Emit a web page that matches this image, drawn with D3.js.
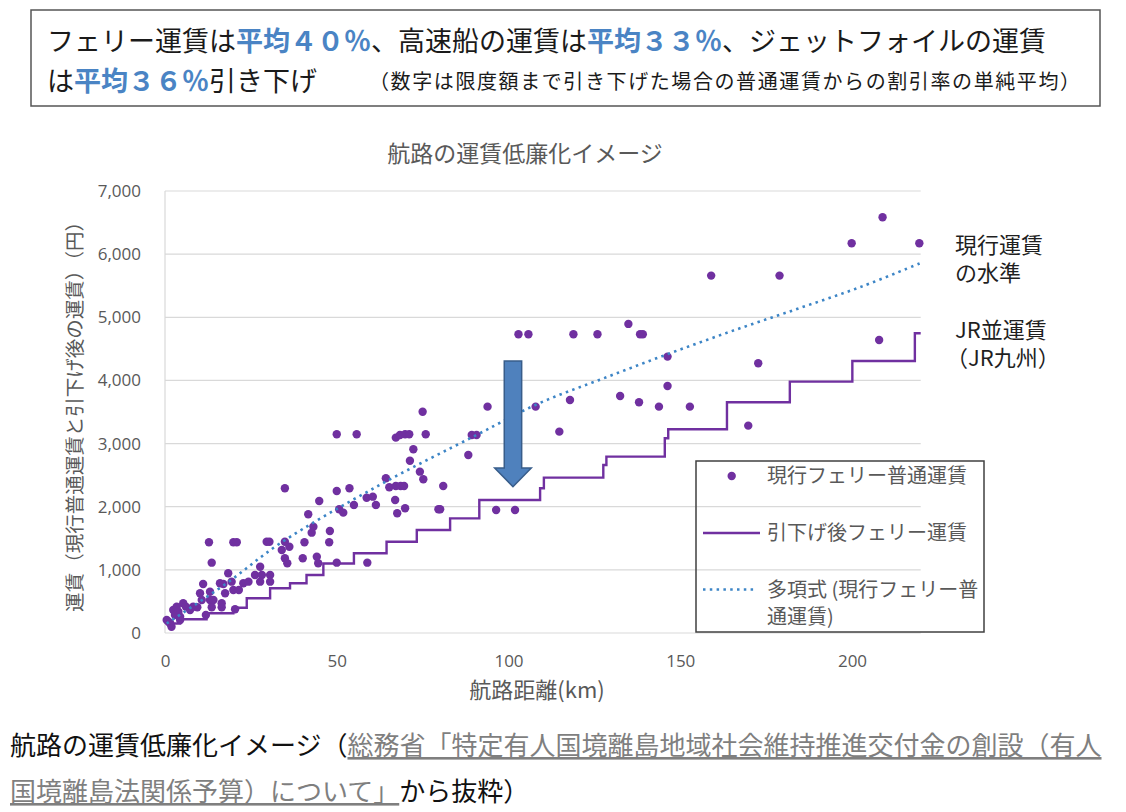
<!DOCTYPE html>
<html>
<head>
<meta charset="utf-8">
<script src="https://cdn.jsdelivr.net/npm/d3@7"></script>
<style>
  body { margin: 0; background: #fff; }
  text { font-family: "Noto Sans CJK JP", "Noto Sans", sans-serif; }
  .num { font-family: "Open Sans", "Liberation Sans", sans-serif; }
</style>
</head>
<body>
<script>
// current ferry fares (km, yen)
var ferryKm = [208.9,199.9,219.6,159.0,178.9,102.9,105.8,118.9,125.9,134.9,138.3,139.1,146.3,146.3,207.9,172.7,169.8,132.5,138.0,143.8,152.8,93.9,107.9,117.9,114.8,88.3,89.3,90.7,81.0,80.1,96.4,101.9,
  75.0,50.0,55.8,67.2,68.4,69.9,71.1,75.9,72.3,71.3,74.2,75.2,64.3,65.3,67.2,68.6,69.6,34.9,50.0,53.7,44.9,58.7,60.5,61.4,55.0,67.0,69.9,67.6,79.6,50.7,51.9,41.7,43.2,42.7,48.0,47.8,40.6,34.9,36.2,34.0,34.9,35.6,40.1,44.2,44.6,50.0,58.9,
  12.8,19.9,20.9,29.6,30.4,13.6,18.4,11.1,16.0,17.0,19.4,19.9,21.5,22.8,24.3,26.2,28.2,27.7,30.6,30.6,27.7,10.2,10.7,13.1,13.1,13.6,16.5,20.4,5.3,6.1,8.2,9.4,11.9,2.4,3.9,2.9,4.4,0.5,1.5,1.9,1.0,17.5,16.5,14.1,3.4,7.3,4.4];
var ferryFare = [6585,6173,6173,5660,5660,4731,4731,4731,4731,4895,4731,4731,4377,3912,4641,4272,3284,3754,3654,3585,3585,3585,3585,3691,3189,2820,3136,3136,2328,1959,1948,1948,
  3505,3147,3147,3094,3136,3147,3147,3147,2910,2729,2555,2435,2450,2308,2328,2328,2328,2292,2249,2292,2091,2143,2159,2028,2028,2107,1975,1896,1959,1959,1906,1880,1684,1589,1616,1437,1437,1446,1367,1315,1183,1104,1183,1209,1104,1114,1114,
  1437,1437,1437,1446,1446,1114,946,776,787,776,813,681,681,787,813,919,919,813,813,919,1050,629,523,654,523,407,407,375,470,417,417,407,285,364,337,285,258,206,154,100,179,629,470,523,417,364,206];

// reduced fare (JR level), step starts
var stepKm = [1,4.4,12.1,19.9,23.8,30.6,36.4,41.2,46.1,55.0,64.5,73.3,83.0,91.5,109.2,110.3,127.6,128.5,145.5,146.5,163.6,181.9,200.1,218.3,220];
var stepFare = [150,217,312,401,550,708,787,919,1100,1262,1446,1631,1815,2107,2292,2460,2661,2793,3084,3227,3654,3981,4308,4747,4747];

// polynomial trend line
var trendKm = [0.5,18,33.5,62,90.7,109,128,147,166,185,203,220];
var trendFare = [150,790,1420,2330,3136,3640,4040,4430,4800,5150,5490,5860];

var xTicks = [0, 50, 100, 150, 200];
var yTicks = [0, 1000, 2000, 3000, 4000, 5000, 6000, 7000];
var legendLabels = ["現行フェリー普通運賃", "引下げ後フェリー運賃", ["多項式 (現行フェリー普", "通運賃)"]];

// arrow: km, top fare, head start fare, tip fare
var arrowKm = 101.3, arrowTop = 4308, arrowHead = 2614, arrowTip = 2317;

var W = 1126, H = 812;
var purple = "#7030a0", dotBlue = "#3d85c6", gray = "#595959", blue = "#4a84c4";

var svg = d3.select("body").append("svg").attr("width", W).attr("height", H);

// header box
svg.append("rect").attr("x", 31).attr("y", 10).attr("width", 1069).attr("height", 96)
  .attr("fill", "none").attr("stroke", "#555").attr("stroke-width", 1.5);

var h1 = svg.append("text").attr("x", 47).attr("y", 51).attr("font-size", 27).attr("fill", "#1a1a1a");
h1.append("tspan").text("フェリー運賃は");
h1.append("tspan").text("平均４０％").attr("fill", blue).attr("font-weight", "bold");
h1.append("tspan").text("、高速船の運賃は");
h1.append("tspan").text("平均３３％").attr("fill", blue).attr("font-weight", "bold");
h1.append("tspan").text("、ジェットフォイルの運賃");

var h2 = svg.append("text").attr("x", 47).attr("y", 91).attr("font-size", 27).attr("fill", "#1a1a1a");
h2.append("tspan").text("は");
h2.append("tspan").text("平均３６％").attr("fill", blue).attr("font-weight", "bold");
h2.append("tspan").text("引き下げ");

svg.append("text").attr("x", 369).attr("y", 89).attr("font-size", 20).attr("fill", "#1a1a1a")
  .attr("textLength", 711).attr("lengthAdjust", "spacing")
  .text("（数字は限度額まで引き下げた場合の普通運賃からの割引率の単純平均）");

// chart
var x = d3.scaleLinear().domain([0, 220]).range([165, 920.7]);
var y = d3.scaleLinear().domain([0, 7000]).range([633, 191]);

svg.append("text").attr("x", 525).attr("y", 154).attr("dy", "0.36em")
  .attr("text-anchor", "middle").attr("font-size", 23).attr("fill", gray)
  .text("航路の運賃低廉化イメージ");

svg.append("g").selectAll("line")
  .data(yTicks)
  .enter()
  .append("line")
  .attr("x1", x(0)).attr("x2", x(220))
  .attr("y1", function(d) { return y(d); })
  .attr("y2", function(d) { return y(d); })
  .attr("stroke", "#d9d9d9").attr("stroke-width", 1.2);

svg.append("line").attr("x1", x(0)).attr("x2", x(0)).attr("y1", y(0)).attr("y2", y(7000))
  .attr("stroke", "#d9d9d9").attr("stroke-width", 1.2);

var yAxis = d3.axisLeft(y).tickValues(yTicks).tickSize(0).tickPadding(24).tickFormat(d3.format(","));
var gy = svg.append("g").attr("transform", "translate(" + x(0) + ",0)").call(yAxis);
gy.select(".domain").remove();
gy.selectAll("text").attr("class", "num").attr("font-size", 17).attr("fill", gray);

var xAxis = d3.axisBottom(x).tickValues(xTicks).tickSize(0).tickPadding(22);
var gx = svg.append("g").attr("transform", "translate(0," + y(0) + ")").call(xAxis);
gx.select(".domain").remove();
gx.selectAll("text").attr("class", "num").attr("font-size", 17).attr("fill", gray);

svg.append("text").attr("transform", "translate(75,412) rotate(-90)").attr("dy", "0.36em")
  .attr("text-anchor", "middle").attr("font-size", 19.5).attr("fill", gray)
  .text("運賃（現行普通運賃と引下げ後の運賃）（円）");

svg.append("text").attr("x", 537).attr("y", 690).attr("dy", "0.36em")
  .attr("text-anchor", "middle").attr("font-size", 22).attr("fill", gray)
  .text("航路距離(km)");

// points
var pts = ferryKm.map(function(k, i) { return [k, ferryFare[i]]; });
svg.append("g").selectAll("circle")
  .data(pts)
  .enter()
  .append("circle")
  .attr("cx", function(d) { return x(d[0]); })
  .attr("cy", function(d) { return y(d[1]); })
  .attr("r", 4.2)
  .attr("fill", purple);

// step line
var steps = stepKm.map(function(k, i) { return [k, stepFare[i]]; });
svg.append("path").datum(steps)
  .attr("d", d3.line().x(function(d) { return x(d[0]); }).y(function(d) { return y(d[1]); }).curve(d3.curveStepAfter))
  .attr("fill", "none").attr("stroke", purple).attr("stroke-width", 2.4);

// trend line, on top of the points
var trend = trendKm.map(function(k, i) { return [k, trendFare[i]]; });
svg.append("path").datum(trend)
  .attr("d", d3.line().x(function(d) { return x(d[0]); }).y(function(d) { return y(d[1]); }).curve(d3.curveCatmullRom))
  .attr("fill", "none").attr("stroke", dotBlue).attr("stroke-width", 2.6)
  .attr("stroke-dasharray", "2.5 4.3");

// arrow
var ax = x(arrowKm);
var arrowPts = [
  [ax - 8.7, y(arrowTop)], [ax + 8.7, y(arrowTop)], [ax + 8.7, y(arrowHead)], [ax + 18.3, y(arrowHead)],
  [ax, y(arrowTip)], [ax - 18.3, y(arrowHead)], [ax - 8.7, y(arrowHead)]
];
svg.append("polygon").attr("points", arrowPts.map(function(p) { return p.join(","); }).join(" "))
  .attr("fill", "#4f81bd").attr("stroke", "#385d8a").attr("stroke-width", 1.5);

// right labels
var rl = [["現行運賃", 245], ["の水準", 273], ["JR並運賃", 330], ["（JR九州）", 358]];
svg.append("g").selectAll("text")
  .data(rl)
  .enter()
  .append("text")
  .attr("x", function(d, i) { return i == 3 ? 946 : 955; })
  .attr("y", function(d) { return d[1]; })
  .attr("dy", "0.36em")
  .attr("font-size", 22).attr("fill", "#1f1f1f")
  .text(function(d) { return d[0]; });

// legend
svg.append("rect").attr("x", 696).attr("y", 461).attr("width", 288).attr("height", 171)
  .attr("fill", "none").attr("stroke", "#404040").attr("stroke-width", 1.5);
svg.append("circle").attr("cx", 731.7).attr("cy", 476).attr("r", 4.2).attr("fill", purple);
svg.append("line").attr("x1", 703).attr("x2", 760).attr("y1", 533).attr("y2", 533)
  .attr("stroke", purple).attr("stroke-width", 2.4);
svg.append("line").attr("x1", 703).attr("x2", 757).attr("y1", 589.5).attr("y2", 589.5)
  .attr("stroke", dotBlue).attr("stroke-width", 2.6).attr("stroke-dasharray", "2.5 4.3");
var legY = [476, 533, 590];
legendLabels.forEach(function(l, i) {
  var lines = Array.isArray(l) ? l : [l];
  lines.forEach(function(s, j) {
    svg.append("text").attr("x", 767).attr("y", legY[i] + j * 26.5).attr("dy", "0.36em")
      .attr("font-size", 20).attr("fill", gray).text(s);
  });
});

// caption
var c1 = svg.append("text").attr("x", 10).attr("y", 755).attr("font-size", 26).attr("fill", "#111");
c1.append("tspan").text("航路の運賃低廉化イメージ（");
c1.append("tspan").text("総務省「特定有人国境離島地域社会維持推進交付金の創設（有人")
  .attr("fill", "#7f7f7f").style("text-decoration", "underline");
var c2 = svg.append("text").attr("x", 10).attr("y", 801).attr("font-size", 26).attr("fill", "#111");
c2.append("tspan").text("国境離島法関係予算）について」")
  .attr("fill", "#7f7f7f").style("text-decoration", "underline");
c2.append("tspan").text("から抜粋）");
</script>
</body>
</html>
